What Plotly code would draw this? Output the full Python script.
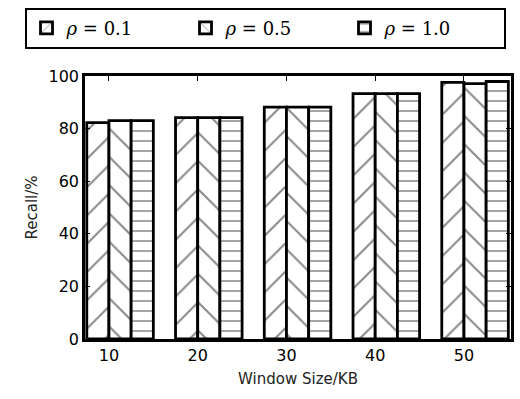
import plotly.graph_objects as go

window_kb = [10, 20, 30, 40, 50]
recall_r01 = [82.3, 84.2, 88.2, 93.3, 97.6]
recall_r05 = [83.0, 84.2, 88.2, 93.3, 97.1]
recall_r10 = [83.0, 84.2, 88.2, 93.3, 97.9]
series_names = ["<i>ρ</i> = 0.1", "<i>ρ</i> = 0.5", "<i>ρ</i> = 1.0"]
patterns = ["/", "\\", "-"]
pattern_sizes = [20, 20, 10]
pattern_solidity = [0.1, 0.1, 0.15]
offsets = [-2.5, 0.0, 2.5]

fig = go.Figure()
for vals, name, pat, psz, sol, off in zip([recall_r01, recall_r05, recall_r10],
                                          series_names, patterns, pattern_sizes,
                                          pattern_solidity, offsets):
    fig.add_trace(go.Bar(
        x=window_kb, y=vals, name=name, width=2.5, offset=off,
        marker=dict(color="white", line=dict(color="black", width=2.8),
                    pattern=dict(shape=pat, size=psz, solidity=sol,
                                 fgcolor="#111", bgcolor="white", fillmode="overlay")),
    ))

fig.update_layout(
    width=520, height=399,
    margin=dict(l=85, r=6, t=76, b=60),
    plot_bgcolor="white", paper_bgcolor="white",
    barmode="overlay",
    showlegend=True,
    legend=dict(orientation="h", x=-0.142, xanchor="left", y=1.26, yanchor="top",
                bordercolor="black", borderwidth=2,
                font=dict(family="DejaVu Serif", size=18, color="black"),
                entrywidth=114, entrywidthmode="pixels", traceorder="normal"),
    font=dict(family="DejaVu Sans", size=15, color="black"),
)
fig.update_xaxes(range=[7.3, 55.3], tickvals=window_kb, ticktext=[str(v) for v in window_kb],
                 ticks="inside", ticklen=5, tickcolor="black", mirror="ticks",
                 showline=True, linecolor="black", linewidth=2.5, showgrid=False, zeroline=False,
                 title=dict(text="Window Size/KB", font=dict(size=15, color="#222"), standoff=10),
                 tickfont=dict(size=16, color="black"))
fig.update_yaxes(range=[0, 100], tickvals=[0, 20, 40, 60, 80, 100],
                 ticks="inside", ticklen=5, tickcolor="black", mirror="ticks",
                 showline=True, linecolor="black", linewidth=2.5, showgrid=False, zeroline=False,
                 title=dict(text="Recall/%", font=dict(size=15, color="#222"), standoff=8),
                 tickfont=dict(size=16, color="black"))

fig.write_html("out.html")
